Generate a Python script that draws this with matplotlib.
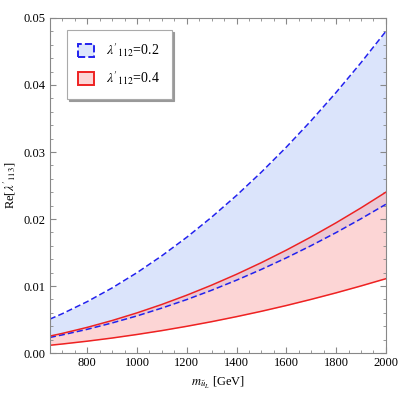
import matplotlib
matplotlib.use("Agg")
import matplotlib.pyplot as plt
import matplotlib as mpl
from matplotlib.patches import Patch
from matplotlib.ticker import MultipleLocator

# squark mass grid (GeV) and curves
m_sq = [650, 700, 800, 900, 1000, 1100, 1200, 1300, 1400, 1500, 1600, 1700, 1800, 1900, 2000]
blue_upper = [0.00507, 0.00588, 0.00768, 0.00972, 0.0120, 0.01452, 0.01728, 0.02028,
              0.02352, 0.0270, 0.03072, 0.03468, 0.03888, 0.04332, 0.0480]
blue_lower = [0.00234, 0.00272, 0.00355, 0.00450, 0.00555, 0.00672, 0.00799, 0.00938,
              0.01088, 0.01249, 0.01421, 0.01604, 0.01798, 0.02004, 0.0222]
red_upper = [0.00254, 0.00294, 0.00384, 0.00486, 0.0060, 0.00726, 0.00864, 0.01014,
             0.01176, 0.0135, 0.01536, 0.01734, 0.01944, 0.02166, 0.0240]
red_lower = [0.00117, 0.00136, 0.00178, 0.00225, 0.00278, 0.00336, 0.00400, 0.00469,
             0.00544, 0.00624, 0.00710, 0.00802, 0.00899, 0.01002, 0.0111]

labels = [r"$\lambda'_{112}$=0.2", r"$\lambda'_{112}$=0.4"]

mpl.rcParams['font.family'] = 'Liberation Serif'
mpl.rcParams['mathtext.fontset'] = 'stix'
mpl.rcParams['font.size'] = 9

fig = plt.figure(figsize=(3.99, 3.99), dpi=100)
ax = fig.add_axes([0.125, 0.115, 0.842, 0.84])

#fills
ax.fill_between(m_sq, blue_lower, blue_upper, color='#c8d6fa', alpha=0.65, lw=0)
ax.fill_between(m_sq, red_lower, red_upper, color='#fbb4b4', alpha=0.55, lw=0)

#curves
ax.plot(m_sq, blue_upper, color='#2222ee', ls=(0, (4, 2)), lw=1.1)
ax.plot(m_sq, blue_lower, color='#2222ee', ls=(0, (4, 2)), lw=1.1)
ax.plot(m_sq, red_upper, color='#ee2222', lw=1.1)
ax.plot(m_sq, red_lower, color='#ee2222', lw=1.1)

ax.set_xlim(650, 2000)
ax.set_ylim(0, 0.05)
ax.xaxis.set_major_locator(MultipleLocator(200))
ax.xaxis.set_minor_locator(MultipleLocator(50))
ax.yaxis.set_major_locator(MultipleLocator(0.01))
ax.yaxis.set_minor_locator(MultipleLocator(0.002))
ax.yaxis.set_major_formatter(mpl.ticker.FormatStrFormatter('%.2f'))
ax.set_xticks([800, 1000, 1200, 1400, 1600, 1800, 2000])

ax.tick_params(which='both', direction='in', top=True, right=True, color='#888888',
               labelsize=9, pad=3)
ax.tick_params(which='major', length=4, width=0.8)
ax.tick_params(which='minor', length=2.2, width=0.6)
for s in ax.spines.values():
    s.set_color('#888888')
    s.set_linewidth(0.8)

ax.set_xlabel(r"$m_{\tilde{u}_L}$ [GeV]", fontsize=9, labelpad=4)
ax.set_ylabel(r"Re[$\lambda'_{113}$]", fontsize=9, labelpad=4)

handles = [Patch(facecolor='#dde6fc', edgecolor='#2222ee', ls='--', lw=1.4),
           Patch(facecolor='#fcd6d6', edgecolor='#ee2222', lw=1.4)]
leg = ax.legend(handles, labels, loc='upper left', bbox_to_anchor=(0.05, 0.965),
                fancybox=False, shadow={'color': '#999999', 'alpha': 1, 'ox': 1.5, 'oy': -1.5},
                framealpha=1, edgecolor='#aaaaaa', fontsize=10, handlelength=1.1,
                handleheight=1.1, labelspacing=0.75, borderpad=0.85, handletextpad=0.9,
                borderaxespad=0)
leg.get_frame().set_linewidth(0.8)

fig.savefig('out.png', dpi=100)
